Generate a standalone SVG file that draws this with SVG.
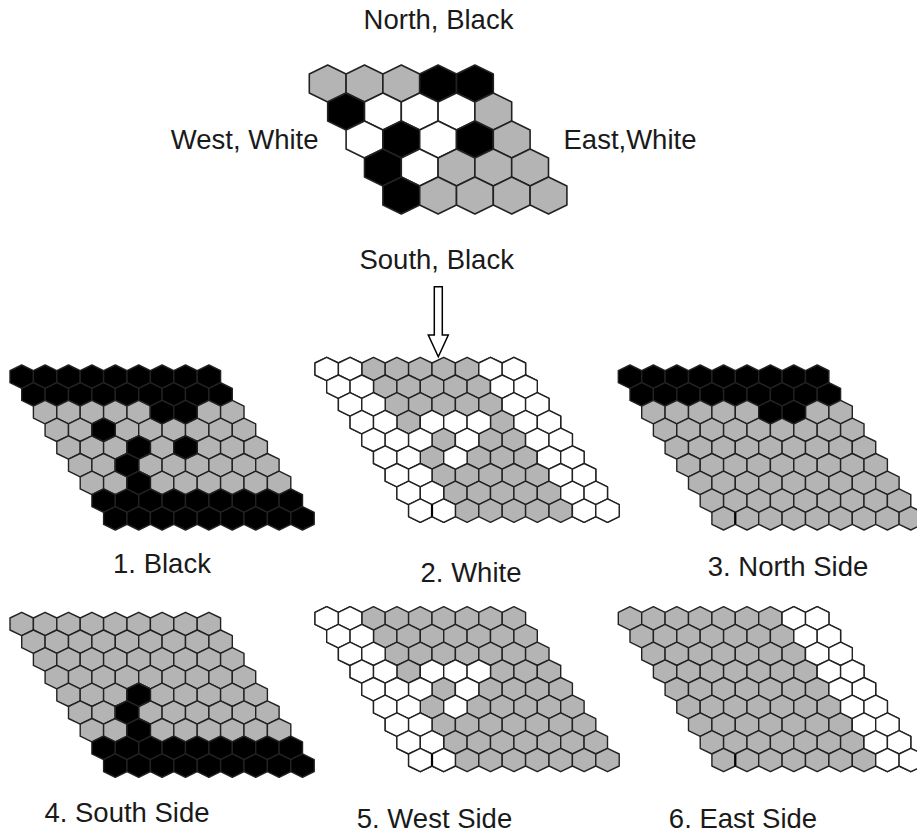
<svg xmlns="http://www.w3.org/2000/svg" xmlns:xlink="http://www.w3.org/1999/xlink" width="917" height="836" viewBox="0 0 917 836">
<style>
.g{fill:#b4b4b4}
.w{fill:#ffffff}
.b{fill:#000000}
.hx{stroke:#222;stroke-width:1.4;stroke-linejoin:round}
.big{stroke:#222;stroke-width:1.6;stroke-linejoin:round}
.lbl{font-family:"Liberation Sans",Arial,Helvetica,sans-serif;font-size:27.5px;fill:#1a1a1a}
.art{stroke:#000;stroke-width:2.2}
</style>
<defs>
<path id="hs" d="M11.7,0 L23.4,5.7 L23.4,17.7 L11.7,23.4 L0,17.7 L0,5.7 Z"/>
<path id="hb" d="M18.4,0 L36.8,9 L36.8,28 L18.4,37 L0,28 L0,9 Z"/>
<g id="r9">
<use href="#hs" x="0"/><use href="#hs" x="23.4"/><use href="#hs" x="46.8"/><use href="#hs" x="70.2"/><use href="#hs" x="93.6"/><use href="#hs" x="117"/><use href="#hs" x="140.4"/><use href="#hs" x="163.8"/><use href="#hs" x="187.2"/>
</g>
<g id="w2"><use href="#hs" x="0"/><use href="#hs" x="23.4"/></g>
</defs>

<g id="labels">
<text class="lbl" x="438.5" y="29" text-anchor="middle">North, Black</text>
<text class="lbl" x="318.5" y="149" text-anchor="end">West, White</text>
<text class="lbl" x="563.5" y="149">East,White</text>
<text class="lbl" x="436.7" y="269" text-anchor="middle">South, Black</text>
</g>

<g id="mainBoard" class="big" transform="translate(309.3,65)">
<use href="#hb" class="g" x="0" y="0"/><use href="#hb" class="g" x="36.8" y="0"/><use href="#hb" class="g" x="73.6" y="0"/><use href="#hb" class="b" x="110.4" y="0"/><use href="#hb" class="b" x="147.2" y="0"/>
<use href="#hb" class="b" x="18.4" y="28"/><use href="#hb" class="w" x="55.2" y="28"/><use href="#hb" class="w" x="92" y="28"/><use href="#hb" class="w" x="128.8" y="28"/><use href="#hb" class="g" x="165.6" y="28"/>
<use href="#hb" class="w" x="36.8" y="56"/><use href="#hb" class="b" x="73.6" y="56"/><use href="#hb" class="w" x="110.4" y="56"/><use href="#hb" class="b" x="147.2" y="56"/><use href="#hb" class="g" x="184" y="56"/>
<use href="#hb" class="b" x="55.2" y="84"/><use href="#hb" class="w" x="92" y="84"/><use href="#hb" class="g" x="128.8" y="84"/><use href="#hb" class="g" x="165.6" y="84"/><use href="#hb" class="g" x="202.4" y="84"/>
<use href="#hb" class="b" x="73.6" y="112"/><use href="#hb" class="g" x="110.4" y="112"/><use href="#hb" class="g" x="147.2" y="112"/><use href="#hb" class="g" x="184" y="112"/><use href="#hb" class="g" x="220.8" y="112"/>
</g>

<g id="connectors">
<polygon points="434.3,286.7 442.3,286.7 442.3,335 448.3,335 438.3,356.7 428.3,335 434.3,335" fill="#fff" stroke="#000" stroke-width="1.5" stroke-linejoin="miter"/>
</g>

<g id="board1" class="hx" transform="translate(10,365)">
<use href="#r9" class="b" x="0" y="0"/>
<use href="#r9" class="b" x="11.7" y="17.7"/>
<use href="#r9" class="g" x="23.4" y="35.4"/>
<use href="#r9" class="g" x="35.1" y="53.1"/>
<use href="#r9" class="g" x="46.8" y="70.8"/>
<use href="#r9" class="g" x="58.5" y="88.5"/>
<use href="#r9" class="g" x="70.2" y="106.2"/>
<use href="#r9" class="b" x="81.9" y="123.9"/>
<use href="#r9" class="b" x="93.6" y="141.6"/>
<use href="#hs" class="b" x="140.4" y="35.4"/><use href="#hs" class="b" x="163.8" y="35.4"/>
<use href="#hs" class="b" x="81.9" y="53.1"/>
<use href="#hs" class="b" x="117" y="70.8"/><use href="#hs" class="b" x="163.8" y="70.8"/>
<use href="#hs" class="b" x="105.3" y="88.5"/>
<use href="#hs" class="b" x="117" y="106.2"/>
</g>

<g id="board2" class="hx" transform="translate(315,357.3)">
<use href="#r9" class="g" x="0" y="0"/>
<use href="#r9" class="g" x="11.7" y="17.7"/>
<use href="#r9" class="g" x="23.4" y="35.4"/>
<use href="#r9" class="g" x="35.1" y="53.1"/>
<use href="#r9" class="g" x="46.8" y="70.8"/>
<use href="#r9" class="g" x="58.5" y="88.5"/>
<use href="#r9" class="g" x="70.2" y="106.2"/>
<use href="#r9" class="g" x="81.9" y="123.9"/>
<use href="#r9" class="g" x="93.6" y="141.6"/>
<use href="#w2" class="w" x="0" y="0"/><use href="#w2" class="w" x="11.7" y="17.7"/><use href="#w2" class="w" x="23.4" y="35.4"/><use href="#w2" class="w" x="35.1" y="53.1"/><use href="#w2" class="w" x="46.8" y="70.8"/><use href="#w2" class="w" x="58.5" y="88.5"/><use href="#w2" class="w" x="70.2" y="106.2"/><use href="#w2" class="w" x="81.9" y="123.9"/><use href="#w2" class="w" x="93.6" y="141.6"/>
<use href="#w2" class="w" x="163.8" y="0"/><use href="#w2" class="w" x="175.5" y="17.7"/><use href="#w2" class="w" x="187.2" y="35.4"/><use href="#w2" class="w" x="198.9" y="53.1"/><use href="#w2" class="w" x="210.6" y="70.8"/><use href="#w2" class="w" x="222.3" y="88.5"/><use href="#w2" class="w" x="234" y="106.2"/><use href="#w2" class="w" x="245.7" y="123.9"/><use href="#w2" class="w" x="257.4" y="141.6"/>
<use href="#hs" class="w" x="105.3" y="53.1"/><use href="#hs" class="w" x="128.7" y="53.1"/><use href="#hs" class="w" x="152.1" y="53.1"/>
<use href="#hs" class="w" x="93.6" y="70.8"/><use href="#hs" class="w" x="140.4" y="70.8"/>
<use href="#hs" class="w" x="128.7" y="88.5"/>
<line class="art" x1="117" y1="147.3" x2="117" y2="159.3"/>
</g>

<g id="board3" class="hx" transform="translate(618.3,365)">
<use href="#r9" class="b" x="0" y="0"/>
<use href="#r9" class="b" x="11.7" y="17.7"/>
<use href="#r9" class="g" x="23.4" y="35.4"/>
<use href="#r9" class="g" x="35.1" y="53.1"/>
<use href="#r9" class="g" x="46.8" y="70.8"/>
<use href="#r9" class="g" x="58.5" y="88.5"/>
<use href="#r9" class="g" x="70.2" y="106.2"/>
<use href="#r9" class="g" x="81.9" y="123.9"/>
<use href="#r9" class="g" x="93.6" y="141.6"/>
<use href="#hs" class="b" x="140.4" y="35.4"/><use href="#hs" class="b" x="163.8" y="35.4"/>
<line class="art" x1="117" y1="147.3" x2="117" y2="159.3"/>
</g>

<g id="board4" class="hx" transform="translate(10,612.3)">
<use href="#r9" class="g" x="0" y="0"/>
<use href="#r9" class="g" x="11.7" y="17.7"/>
<use href="#r9" class="g" x="23.4" y="35.4"/>
<use href="#r9" class="g" x="35.1" y="53.1"/>
<use href="#r9" class="g" x="46.8" y="70.8"/>
<use href="#r9" class="g" x="58.5" y="88.5"/>
<use href="#r9" class="g" x="70.2" y="106.2"/>
<use href="#r9" class="b" x="81.9" y="123.9"/>
<use href="#r9" class="b" x="93.6" y="141.6"/>
<use href="#hs" class="b" x="117" y="70.8"/>
<use href="#hs" class="b" x="105.3" y="88.5"/>
<use href="#hs" class="b" x="117" y="106.2"/>
</g>

<g id="board5" class="hx" transform="translate(315,606.7)">
<use href="#r9" class="g" x="0" y="0"/>
<use href="#r9" class="g" x="11.7" y="17.7"/>
<use href="#r9" class="g" x="23.4" y="35.4"/>
<use href="#r9" class="g" x="35.1" y="53.1"/>
<use href="#r9" class="g" x="46.8" y="70.8"/>
<use href="#r9" class="g" x="58.5" y="88.5"/>
<use href="#r9" class="g" x="70.2" y="106.2"/>
<use href="#r9" class="g" x="81.9" y="123.9"/>
<use href="#r9" class="g" x="93.6" y="141.6"/>
<use href="#w2" class="w" x="0" y="0"/><use href="#w2" class="w" x="11.7" y="17.7"/><use href="#w2" class="w" x="23.4" y="35.4"/><use href="#w2" class="w" x="35.1" y="53.1"/><use href="#w2" class="w" x="46.8" y="70.8"/><use href="#w2" class="w" x="58.5" y="88.5"/><use href="#w2" class="w" x="70.2" y="106.2"/><use href="#w2" class="w" x="81.9" y="123.9"/><use href="#w2" class="w" x="93.6" y="141.6"/>
<use href="#hs" class="w" x="105.3" y="53.1"/><use href="#hs" class="w" x="128.7" y="53.1"/><use href="#hs" class="w" x="152.1" y="53.1"/>
<use href="#hs" class="w" x="93.6" y="70.8"/><use href="#hs" class="w" x="140.4" y="70.8"/>
<use href="#hs" class="w" x="128.7" y="88.5"/>
<line class="art" x1="117" y1="147.3" x2="117" y2="159.3"/>
</g>

<g id="board6" class="hx" transform="translate(618.3,606.7)">
<use href="#r9" class="g" x="0" y="0"/>
<use href="#r9" class="g" x="11.7" y="17.7"/>
<use href="#r9" class="g" x="23.4" y="35.4"/>
<use href="#r9" class="g" x="35.1" y="53.1"/>
<use href="#r9" class="g" x="46.8" y="70.8"/>
<use href="#r9" class="g" x="58.5" y="88.5"/>
<use href="#r9" class="g" x="70.2" y="106.2"/>
<use href="#r9" class="g" x="81.9" y="123.9"/>
<use href="#r9" class="g" x="93.6" y="141.6"/>
<use href="#w2" class="w" x="163.8" y="0"/><use href="#w2" class="w" x="175.5" y="17.7"/><use href="#w2" class="w" x="187.2" y="35.4"/><use href="#w2" class="w" x="198.9" y="53.1"/><use href="#w2" class="w" x="210.6" y="70.8"/><use href="#w2" class="w" x="222.3" y="88.5"/><use href="#w2" class="w" x="234" y="106.2"/><use href="#w2" class="w" x="245.7" y="123.9"/><use href="#w2" class="w" x="257.4" y="141.6"/>
<line class="art" x1="117" y1="147.3" x2="117" y2="159.3"/>
</g>

<g id="captions">
<text class="lbl" x="162" y="573" text-anchor="middle">1. Black</text>
<text class="lbl" x="471" y="582" text-anchor="middle">2. White</text>
<text class="lbl" x="788" y="576" text-anchor="middle">3. North Side</text>
<text class="lbl" x="127" y="822" text-anchor="middle">4. South Side</text>
<text class="lbl" x="434.5" y="828" text-anchor="middle">5. West Side</text>
<text class="lbl" x="743" y="828" text-anchor="middle">6. East Side</text>
</g>
</svg>
